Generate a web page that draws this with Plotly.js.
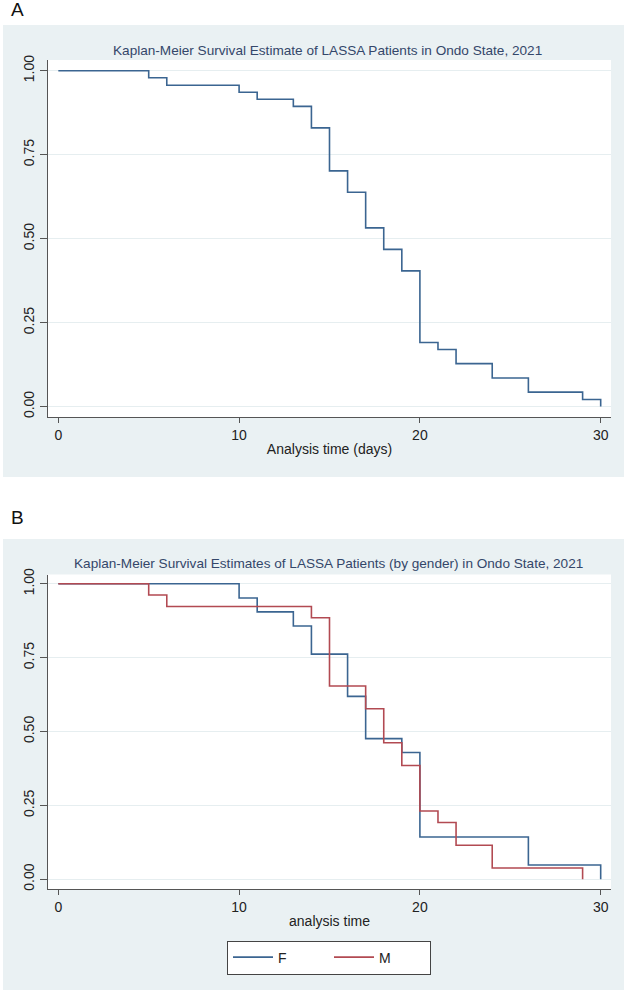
<!DOCTYPE html>
<html>
<head>
<meta charset="utf-8">
<script src="https://cdn.plot.ly/plotly-3.0.1.min.js"></script>
<style>
  html, body { margin: 0; padding: 0; background: #ffffff; }
  #chart { width: 629px; height: 994px; }
</style>
</head>
<body>
<div id="chart"></div>
<script>
// Panel A: overall Kaplan-Meier estimate
const timeAll = [0, 5, 6, 10, 11, 13, 14, 15, 16, 17, 18, 19, 20, 21, 22, 24, 26, 29, 30];
const survAll = [1.00, 0.979, 0.957, 0.936, 0.915, 0.894, 0.830, 0.702, 0.638, 0.532, 0.468, 0.404, 0.191, 0.170, 0.128, 0.085, 0.043, 0.021, 0.00];

// Panel B: by gender
const timeF = [0, 10, 11, 13, 14, 16, 17, 19, 20, 26, 30];
const survF = [1.00, 0.952, 0.905, 0.857, 0.762, 0.619, 0.476, 0.429, 0.143, 0.048, 0.00];
const timeM = [0, 5, 6, 14, 15, 17, 18, 19, 20, 21, 22, 24, 29];
const survM = [1.00, 0.962, 0.923, 0.885, 0.654, 0.577, 0.462, 0.385, 0.231, 0.192, 0.115, 0.038, 0.00];

const seriesNames = ['F', 'M'];
const xTicks = [0, 10, 20, 30];
const yTicks = [0, 0.25, 0.5, 0.75, 1];
const titleA = 'Kaplan-Meier Survival Estimate of LASSA Patients in Ondo State, 2021';
const titleB = 'Kaplan-Meier Survival Estimates of LASSA Patients (by gender) in Ondo State, 2021';
const xTitleA = 'Analysis time (days)';
const xTitleB = 'analysis time';

const W = 629, H = 994;
const px = v => v / W;
const py = v => (H - v) / H;

const BLUE = '#3b6591';
const RED = '#b24a52';
const BG = '#eaf1f3';
const FONT = 'Liberation Sans, Arial, Helvetica, sans-serif';

const traces = [
  { x: timeAll, y: survAll, type: 'scatter', mode: 'lines', line: { shape: 'hv', color: BLUE, width: 1.6 },
    xaxis: 'x', yaxis: 'y', showlegend: false, hoverinfo: 'skip' },
  { x: timeF, y: survF, type: 'scatter', mode: 'lines', name: seriesNames[0], line: { shape: 'hv', color: BLUE, width: 1.6 },
    xaxis: 'x2', yaxis: 'y2' },
  { x: timeM, y: survM, type: 'scatter', mode: 'lines', name: seriesNames[1], line: { shape: 'hv', color: RED, width: 1.6 },
    xaxis: 'x2', yaxis: 'y2' }
];

function xAxis(anchor, axTitle) {
  return {
    domain: [px(48), px(611)],
    anchor: anchor,
    range: [-0.57, 30.57],
    tickvals: xTicks,
    ticktext: xTicks.map(String),
    ticks: 'outside', ticklen: 5, tickwidth: 1, tickcolor: '#555555',
    showline: true, linecolor: '#555555', linewidth: 1,
    showgrid: false, zeroline: false,
    tickfont: { family: FONT, size: 14, color: '#222222' },
    title: { text: axTitle, font: { family: FONT, size: 14, color: '#222222' }, standoff: 2 },
    automargin: false, fixedrange: true
  };
}
function yAxis(anchor, domain, range) {
  return {
    domain: domain,
    anchor: anchor,
    range: range,
    tickvals: yTicks,
    ticktext: yTicks.map(v => v.toFixed(2)),
    tickangle: -90,
    ticks: 'outside', ticklen: 7, tickwidth: 1, tickcolor: '#555555',
    showline: true, linecolor: '#555555', linewidth: 1,
    showgrid: true, gridcolor: '#e6eef0', gridwidth: 1,
    zeroline: false,
    tickfont: { family: FONT, size: 14, color: '#222222' },
    automargin: false, fixedrange: true
  };
}

const layout = {
  width: W, height: H,
  margin: { l: 0, r: 0, t: 0, b: 0 },
  paper_bgcolor: '#ffffff',
  plot_bgcolor: '#ffffff',
  font: { family: FONT },
  xaxis: xAxis('y', xTitleA),
  yaxis: yAxis('x', [py(417), py(60)], [-0.031, 1.032]),
  xaxis2: xAxis('y2', xTitleB),
  yaxis2: yAxis('x2', [py(889.3), py(574.5)], [-0.034, 1.0315]),
  shapes: [
    { type: 'rect', xref: 'paper', yref: 'paper', x0: px(3), x1: px(624), y0: py(477), y1: py(25),
      fillcolor: BG, line: { width: 0 }, layer: 'below' },
    { type: 'rect', xref: 'paper', yref: 'paper', x0: px(3), x1: px(624), y0: py(990), y1: py(539),
      fillcolor: BG, line: { width: 0 }, layer: 'below' },
    { type: 'rect', xref: 'x domain', yref: 'y domain', x0: 0, x1: 1, y0: 0, y1: 1,
      fillcolor: '#ffffff', line: { width: 0 }, layer: 'below' },
    { type: 'rect', xref: 'x2 domain', yref: 'y2 domain', x0: 0, x1: 1, y0: 0, y1: 1,
      fillcolor: '#ffffff', line: { width: 0 }, layer: 'below' }
  ],
  annotations: [
    { text: 'A', xref: 'paper', yref: 'paper', x: px(9), y: py(10), xanchor: 'left', yanchor: 'middle',
      showarrow: false, font: { family: FONT, size: 19, color: '#111111' } },
    { text: 'B', xref: 'paper', yref: 'paper', x: px(9), y: py(517), xanchor: 'left', yanchor: 'middle',
      showarrow: false, font: { family: FONT, size: 19, color: '#111111' } },
    { text: titleA, xref: 'paper', yref: 'paper', x: px(327), y: py(51), xanchor: 'center', yanchor: 'middle',
      showarrow: false, font: { family: FONT, size: 13.6, color: '#34476a' } },
    { text: titleB, xref: 'paper', yref: 'paper', x: px(328), y: py(563), xanchor: 'center', yanchor: 'middle',
      showarrow: false, font: { family: FONT, size: 13.6, color: '#34476a' } }
  ],
  showlegend: true,
  legend: {
    orientation: 'h',
    x: px(329), xanchor: 'center',
    y: py(940.5), yanchor: 'top',
    bgcolor: '#ffffff', bordercolor: '#444444', borderwidth: 1,
    font: { family: FONT, size: 14, color: '#222222' },
    entrywidth: 46, entrywidthmode: 'pixels',
    itemwidth: 40
  }
};

Plotly.newPlot('chart', traces, layout, { staticPlot: true, displayModeBar: false });
</script>
</body>
</html>
